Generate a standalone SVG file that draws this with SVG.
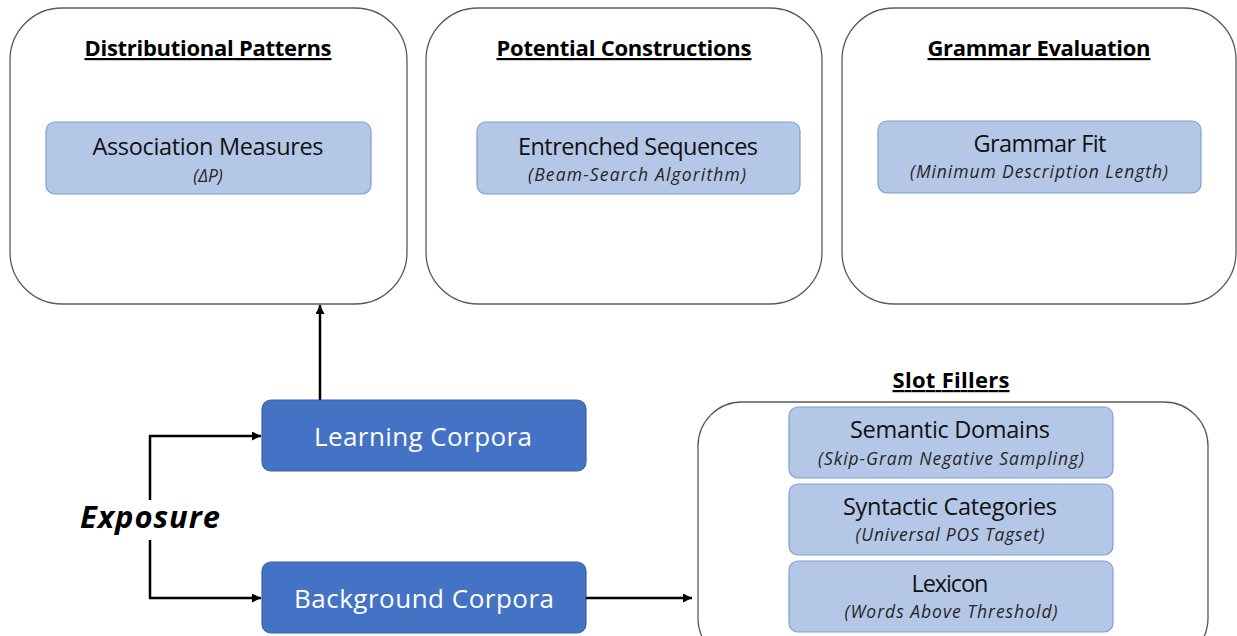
<svg xmlns="http://www.w3.org/2000/svg" width="1237" height="636" viewBox="0 0 1237 636">
  <defs>
    <marker id="arrow" viewBox="0 0 10 10" refX="10" refY="5" markerWidth="9" markerHeight="9" markerUnits="userSpaceOnUse" orient="auto">
      <path d="M0,0 L10,5 L0,10 z" fill="#000"/>
    </marker>
    <style>
      .panel { fill: #fff; stroke: #595959; stroke-width: 1.3; }
      .method { fill: #b4c7e7; stroke: #7f9fd3; stroke-width: 1.2; }
      .corpus { fill: #4472c4; stroke: #3a62ad; stroke-width: 1.2; }
      text { font-family: "Open Sans", Lato, sans-serif; text-anchor: middle; }
      .title { font-weight: bold; font-size: 22px; fill: #000; text-decoration: underline; }
      .main { font-size: 23.5px; fill: #111; }
      .sub { font-style: italic; font-size: 17.5px; fill: #262626; }
      .corpus-label { font-size: 26px; fill: #fff; }
      .conn { fill: none; stroke: #000; stroke-width: 2.5; }
    </style>
  </defs>

  <!-- Stage panels -->
  <g id="distributional-patterns">
    <rect class="panel" x="10" y="8" width="397" height="296" rx="52"/>
    <text class="title" x="208" y="56" textLength="247">Distributional Patterns</text>
    <rect class="method" x="46" y="122" width="325" height="72" rx="9"/>
    <text class="main" x="208" y="155" textLength="231">Association Measures</text>
    <text class="sub" x="208" y="182">(ΔP)</text>
  </g>

  <g id="potential-constructions">
    <rect class="panel" x="426" y="8" width="396" height="296" rx="52"/>
    <text class="title" x="624" y="56" textLength="255">Potential Constructions</text>
    <rect class="method" x="477" y="122" width="323" height="72" rx="9"/>
    <text class="main" x="638" y="155" textLength="240">Entrenched Sequences</text>
    <text class="sub" x="637" y="181" textLength="218">(Beam-Search Algorithm)</text>
  </g>

  <g id="grammar-evaluation">
    <rect class="panel" x="842" y="8" width="394" height="296" rx="52"/>
    <text class="title" x="1039" y="56" textLength="223">Grammar Evaluation</text>
    <rect class="method" x="878" y="121" width="323" height="72" rx="9"/>
    <text class="main" x="1040" y="152" textLength="133">Grammar Fit</text>
    <text class="sub" x="1039" y="178" textLength="258">(Minimum Description Length)</text>
  </g>

  <!-- Corpora -->
  <g id="learning-corpora">
    <rect class="corpus" x="262" y="400" width="324" height="71" rx="9"/>
    <text class="corpus-label" x="423" y="446" textLength="218">Learning Corpora</text>
  </g>

  <g id="background-corpora">
    <rect class="corpus" x="262" y="562" width="324" height="71" rx="9"/>
    <text class="corpus-label" x="424" y="608" textLength="260">Background Corpora</text>
  </g>

  <g id="exposure">
    <text x="150" y="528" font-weight="bold" font-style="italic" font-size="31" fill="#000" textLength="140">Exposure</text>
  </g>

  <!-- Slot fillers -->
  <g id="slot-fillers">
    <text class="title" x="951" y="388" textLength="117">Slot Fillers</text>
    <rect class="panel" x="698" y="402" width="510" height="260" rx="44"/>
    <rect class="method" x="789" y="407" width="324" height="71" rx="9"/>
    <text class="main" x="950" y="438" textLength="200">Semantic Domains</text>
    <text class="sub" x="951" y="465" textLength="266">(Skip-Gram Negative Sampling)</text>
    <rect class="method" x="789" y="484" width="324" height="71" rx="9"/>
    <text class="main" x="950" y="515" textLength="214">Syntactic Categories</text>
    <text class="sub" x="950" y="541" textLength="189">(Universal POS Tagset)</text>
    <rect class="method" x="789" y="561" width="324" height="71" rx="9"/>
    <text class="main" x="950" y="592" textLength="77">Lexicon</text>
    <text class="sub" x="951" y="618" textLength="213">(Words Above Threshold)</text>
  </g>

  <!-- Connectors -->
  <g id="connectors">
    <path class="conn" d="M320,400 V305" marker-end="url(#arrow)"/>
    <path class="conn" d="M150,500 V436 H261" marker-end="url(#arrow)"/>
    <path class="conn" d="M150,540 V598 H261" marker-end="url(#arrow)"/>
    <path class="conn" d="M586,598 H692" marker-end="url(#arrow)"/>
  </g>
</svg>
